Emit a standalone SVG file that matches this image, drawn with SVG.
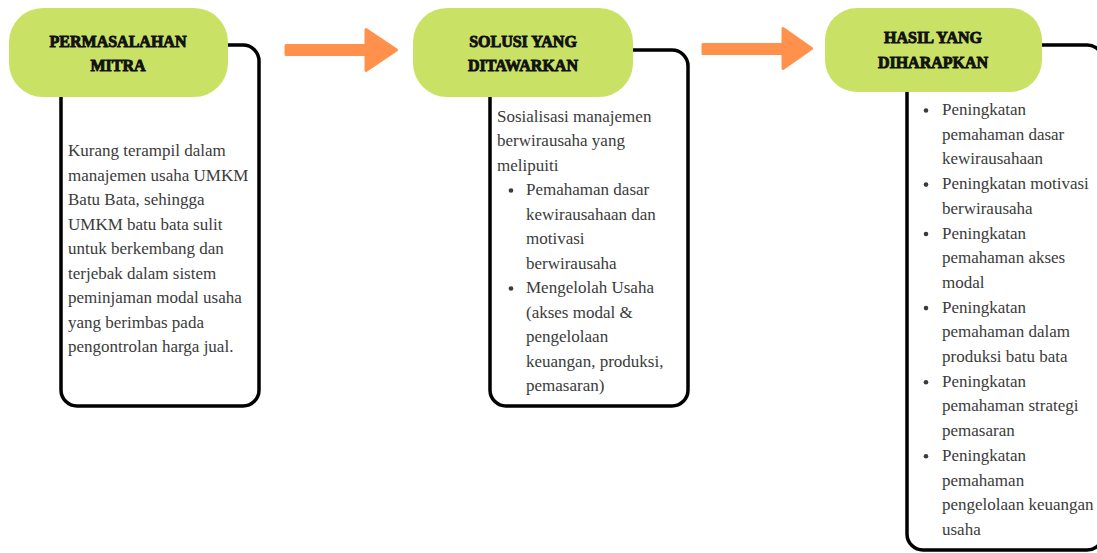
<svg xmlns="http://www.w3.org/2000/svg" width="1097" height="553" viewBox="0 0 1097 553">
<style>
.box{fill:#fff;stroke:#000;stroke-width:3.5}
.pill{fill:#c9e265}
.title{font-family:"Liberation Serif","DejaVu Serif",serif;font-weight:bold;font-size:16px;fill:#111;stroke:#111;stroke-width:0.9;text-anchor:middle}
.body{font-family:"Liberation Serif","DejaVu Serif",serif;font-size:17px;fill:#3b3b3b}
.arrow{fill:#ff914d;stroke:#ff914d;stroke-width:3;stroke-linejoin:round}
.dot{fill:#3b3b3b}
</style>
<rect width="1097" height="553" fill="#fff"/>
<g id="connectors">
<path class="arrow" d="M286 45.5 H366 V29.5 L396.5 50 L366 70.5 V54.5 H286 Z"/>
<path class="arrow" d="M703 44.5 H783 V28.5 L811.5 48.5 L783 68.5 V53.5 H703 Z"/>
</g>
<g id="node-permasalahan">
<rect class="box" x="61" y="45" width="198" height="361" rx="16"/>
<rect class="pill" x="9" y="8" width="219" height="89" rx="34"/>
<text class="title" x="118" y="47">PERMASALAHAN</text>
<text class="title" x="118" y="71">MITRA</text>
<text class="body" x="68">
<tspan x="68" y="156">Kurang terampil dalam</tspan>
<tspan x="68" y="180.5">manajemen usaha UMKM</tspan>
<tspan x="68" y="205">Batu Bata, sehingga</tspan>
<tspan x="68" y="229.5">UMKM batu bata sulit</tspan>
<tspan x="68" y="254">untuk berkembang dan</tspan>
<tspan x="68" y="278.5">terjebak dalam sistem</tspan>
<tspan x="68" y="303">peminjaman modal usaha</tspan>
<tspan x="68" y="327.5">yang berimbas pada</tspan>
<tspan x="68" y="352">pengontrolan harga jual.</tspan>
</text>
</g>
<g id="node-solusi">
<rect class="box" x="490" y="50" width="198" height="356" rx="16"/>
<rect class="pill" x="413" y="8" width="220" height="89" rx="34"/>
<text class="title" x="523" y="47">SOLUSI YANG</text>
<text class="title" x="523" y="71">DITAWARKAN</text>
<text class="body">
<tspan x="497" y="121.5">Sosialisasi manajemen</tspan>
<tspan x="497" y="146">berwirausaha yang</tspan>
<tspan x="497" y="170.5">melipuiti</tspan>
<tspan x="526" y="195">Pemahaman dasar</tspan>
<tspan x="526" y="219.5">kewirausahaan dan</tspan>
<tspan x="526" y="244">motivasi</tspan>
<tspan x="526" y="268.5">berwirausaha</tspan>
<tspan x="526" y="293">Mengelolah Usaha</tspan>
<tspan x="526" y="317.5">(akses modal &amp;</tspan>
<tspan x="526" y="342">pengelolaan</tspan>
<tspan x="526" y="366.5">keuangan, produksi,</tspan>
<tspan x="526" y="391">pemasaran)</tspan>
</text>
<circle class="dot" cx="511" cy="190.5" r="2.3"/>
<circle class="dot" cx="511" cy="288.5" r="2.3"/>
</g>
<g id="node-hasil">
<rect class="box" x="907" y="45" width="196" height="505" rx="16"/>
<rect class="pill" x="825" y="8" width="217" height="84" rx="32"/>
<text class="title" x="933" y="43">HASIL YANG</text>
<text class="title" x="933" y="68">DIHARAPKAN</text>
<text class="body">
<tspan x="942" y="115">Peningkatan</tspan>
<tspan x="942" y="139.7">pemahaman dasar</tspan>
<tspan x="942" y="164.4">kewirausahaan</tspan>
<tspan x="942" y="189.1">Peningkatan motivasi</tspan>
<tspan x="942" y="213.8">berwirausaha</tspan>
<tspan x="942" y="238.5">Peningkatan</tspan>
<tspan x="942" y="263.2">pemahaman akses</tspan>
<tspan x="942" y="287.9">modal</tspan>
<tspan x="942" y="312.6">Peningkatan</tspan>
<tspan x="942" y="337.3">pemahaman dalam</tspan>
<tspan x="942" y="362">produksi batu bata</tspan>
<tspan x="942" y="386.7">Peningkatan</tspan>
<tspan x="942" y="411.4">pemahaman strategi</tspan>
<tspan x="942" y="436.1">pemasaran</tspan>
<tspan x="942" y="460.8">Peningkatan</tspan>
<tspan x="942" y="485.5">pemahaman</tspan>
<tspan x="942" y="510.2">pengelolaan keuangan</tspan>
<tspan x="942" y="534.9">usaha</tspan>
</text>
<circle class="dot" cx="926" cy="110.5" r="2.3"/>
<circle class="dot" cx="926" cy="184.6" r="2.3"/>
<circle class="dot" cx="926" cy="234" r="2.3"/>
<circle class="dot" cx="926" cy="308.1" r="2.3"/>
<circle class="dot" cx="926" cy="382.2" r="2.3"/>
<circle class="dot" cx="926" cy="456.3" r="2.3"/>
</g>
</svg>
